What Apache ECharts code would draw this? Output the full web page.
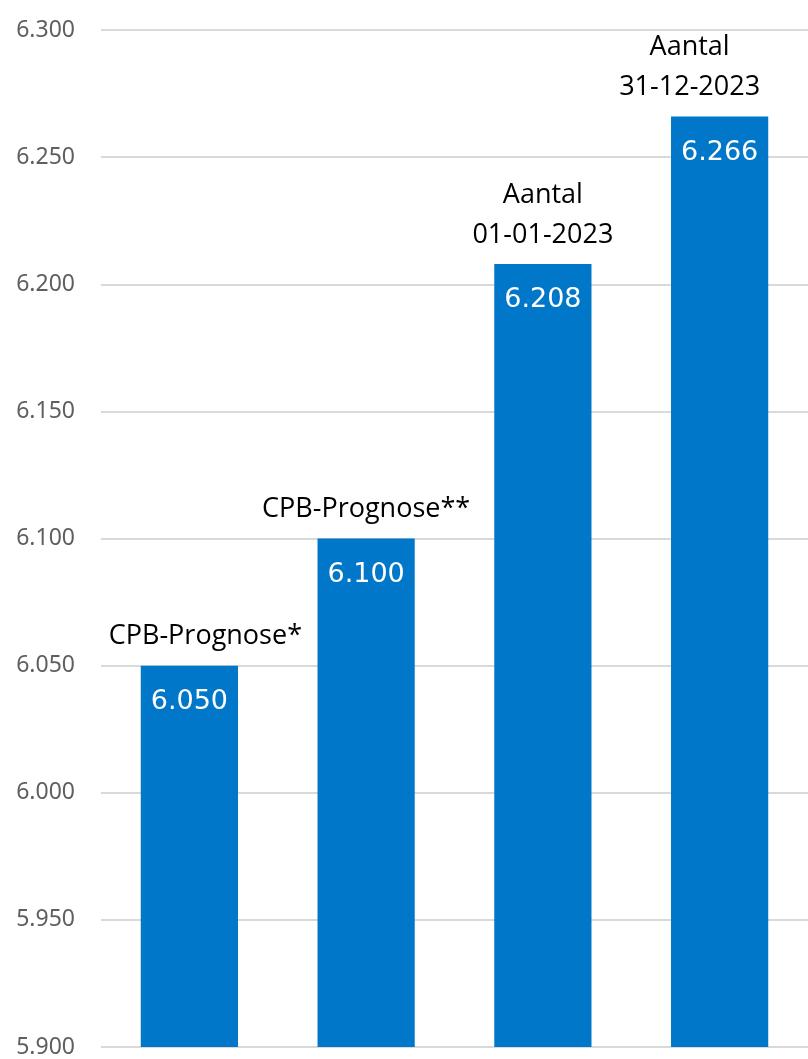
<!DOCTYPE html>
<html>
<head>
<meta charset="utf-8">
<script src="https://cdn.jsdelivr.net/npm/echarts@6/dist/echarts.min.js"></script>
<style>
html,body{margin:0;padding:0;background:#fff;}
#chart{width:808px;height:1059px;}
</style>
</head>
<body>
<div id="chart"></div>
<script>
const categories = ["CPB-Prognose*", "CPB-Prognose**", "Aantal\n01-01-2023", "Aantal\n31-12-2023"];
const values = [6050, 6100, 6208, 6266];
const yMin = 5900, yMax = 6300, yStep = 50;

function nl(v) {
  const s = String(Math.round(v));
  return s.replace(/\B(?=(\d{3})+(?!\d))/g, ".");
}

// horizontal nudges of the category captions (as in the reference)
const captionShift = [16, 0, 0, -30];

const chart = echarts.init(document.getElementById('chart'), null, {renderer: 'canvas'});
chart.setOption({
  animation: false,
  grid: {left: 101, right: 0, top: 30, bottom: 12, containLabel: false},
  xAxis: {
    type: 'category',
    data: categories,
    axisLine: {show: false},
    axisTick: {show: false},
    axisLabel: {show: false}
  },
  yAxis: {
    type: 'value',
    min: yMin, max: yMax, interval: yStep,
    axisLine: {show: false},
    axisTick: {show: false},
    splitLine: {lineStyle: {color: '#d9d9d9', width: 2}},
    axisLabel: {
      formatter: nl,
      color: '#5f5f5f',
      fontFamily: 'Noto Sans',
      fontSize: 23,
      margin: 26
    }
  },
  series: [
    {
      type: 'bar',
      data: values,
      barWidth: '55%',
      itemStyle: {color: '#0077C8'},
      label: {
        show: true,
        position: 'insideTop',
        distance: 23,
        formatter: p => nl(p.value),
        color: '#ffffff',
        fontFamily: 'DejaVu Sans',
        fontSize: 27
      },
      z: 2
    },
    {
      type: 'bar',
      data: values.map((v, i) => ({value: v, label: {offset: [captionShift[i], 0]}})),
      barWidth: '55%',
      barGap: '-100%',
      itemStyle: {color: 'rgba(0,0,0,0)'},
      label: {
        show: true,
        position: 'top',
        distance: 9,
        formatter: p => categories[p.dataIndex],
        color: '#000000',
        fontFamily: 'Open Sans',
        fontSize: 27,
        lineHeight: 40
      },
      z: 3
    }
  ]
});
</script>
</body>
</html>
